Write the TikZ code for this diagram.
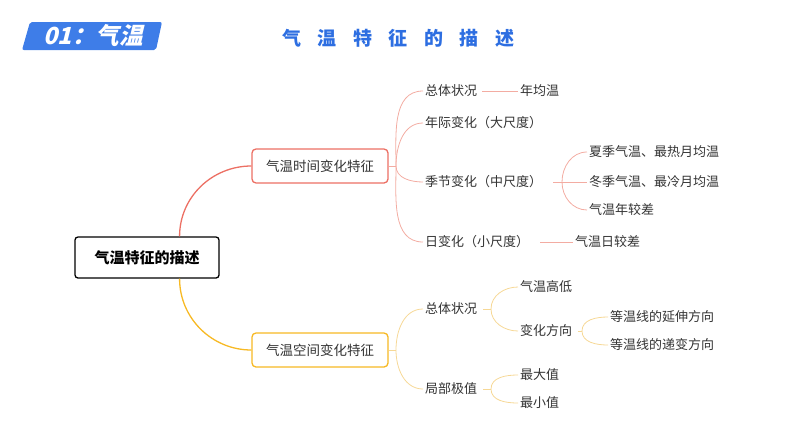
\documentclass[tikz,border=0pt]{standalone}
\usepackage{fontspec}
\setmainfont{Noto Sans CJK SC}
\newfontfamily\bannerfont{Noto Sans CJK SC}[FakeSlant=0.25]
\usepackage{tikz}
\definecolor{bannerblue}{RGB}{62, 125, 232}
\definecolor{titleblue}{RGB}{45, 110, 225}
\definecolor{timered}{RGB}{236, 112, 100}
\definecolor{timelight}{RGB}{243, 172, 162}
\definecolor{spaceyellow}{RGB}{247, 185, 36}
\definecolor{spacelight}{RGB}{246, 216, 150}
\definecolor{leaftext}{gray}{0.2}

\tikzset{
	rootbox/.style={draw=black, line width=1.3pt, rounded corners=3pt, fill=white, minimum width=144pt, minimum height=41pt, font=\fontsize{15}{15}\selectfont\bfseries},
	timebox/.style={draw=timered, line width=1.3pt, rounded corners=4pt, fill=white, minimum width=136pt, minimum height=34pt, font=\fontsize{13.5}{14}\selectfont, text=leaftext},
	spacebox/.style={timebox, draw=spaceyellow},
	leaf/.style={anchor=west, inner sep=2pt, font=\fontsize{13}{14}\selectfont, text=leaftext},
	timeline/.style={draw=timelight, line width=0.8pt},
	spaceline/.style={draw=spacelight, line width=0.8pt},
}

\begin{document}
\begin{tikzpicture}[x=1pt, y=-1pt]
		\useasboundingbox (0,0) rectangle (794,447);

		\fill[bannerblue, rounded corners=2pt] (30,22) -- (162,22) -- (156,50) -- (22,50) -- cycle;
		\node[text=white, font=\fontsize{23.5}{24}\bannerfont\bfseries] (banner) at (93,36) {01：气温};
		\foreach \ch [count=\i from 0] in {气,温,特,征,的,描,述}
			\node[text=titleblue, font=\fontsize{19}{19}\selectfont\bfseries] (title\i) at (291.5+35.5*\i, 38) {\ch};

		\node[rootbox] (root) at (147,257.5) {气温特征的描述};
		\node[timebox] (time) at (320,166) {气温时间变化特征};
		\node[spacebox] (space) at (320,350) {气温空间变化特征};
		\draw[timered, line width=1.3pt] (root.33) to[out=90, in=180] (time.west);
		\draw[spaceyellow, line width=1.3pt] (root.-33) to[out=-90, in=180] (space.west);

		\node[leaf] (ta) at (423,91) {总体状况};
		\node[leaf] (ta1) at (518,91) {年均温};
		\node[leaf] (tb) at (423,123) {年际变化（大尺度）};
		\node[leaf] (tc) at (423,182) {季节变化（中尺度）};
		\node[leaf] (tc1) at (587,152) {夏季气温、最热月均温};
		\node[leaf] (tc2) at (587,182) {冬季气温、最冷月均温};
		\node[leaf] (tc3) at (587,210) {气温年较差};
		\node[leaf] (td) at (423,242) {日变化（小尺度）};
		\node[leaf] (td1) at (573,242) {气温日较差};
		\coordinate (tj) at (396,166);
		\coordinate (tcj) at (562,182);

		\draw[timeline] (time.east) -- (tj);
		\draw[timeline] (tj) to[out=90, in=180] (ta.west);
		\draw[timeline] (tj) to[out=90, in=180] (tb.west);
		\draw[timeline] (tj) to[out=-90, in=180] (tc.west);
		\draw[timeline] (tj) to[out=-90, in=180] (td.west);
		\draw[timeline, shorten <=3pt] (ta.east) -- (ta1.west);
		\draw[timeline, shorten <=9pt] (td.east) -- (td1.west);
		\draw[timeline, shorten <=9pt] (tc.east) -- (tcj);
		\draw[timeline] (tcj) to[out=90, in=180] (tc1.west);
		\draw[timeline] (tcj) -- (tc2.west);
		\draw[timeline] (tcj) to[out=-90, in=180] (tc3.west);

		\node[leaf] (sa) at (423,309) {总体状况};
		\node[leaf] (sa1) at (518,287) {气温高低};
		\node[leaf] (sa2) at (518,331) {变化方向};
		\node[leaf] (sa21) at (608,317) {等温线的延伸方向};
		\node[leaf] (sa22) at (608,345) {等温线的递变方向};
		\node[leaf] (sb) at (423,389) {局部极值};
		\node[leaf] (sb1) at (518,375) {最大值};
		\node[leaf] (sb2) at (518,403) {最小值};
		\coordinate (sj) at (396,350);
		\coordinate (saj) at (491,309);
		\coordinate (sa2j) at (582,331);
		\coordinate (sbj) at (491,389);

		\draw[spaceline] (space.east) -- (sj);
		\draw[spaceline] (sj) to[out=90, in=180] (sa.west);
		\draw[spaceline] (sj) to[out=-90, in=180] (sb.west);
		\draw[spaceline, shorten <=4pt] (sa.east) -- (saj);
		\draw[spaceline] (saj) to[out=90, in=180] (sa1.west);
		\draw[spaceline] (saj) to[out=-90, in=180] (sa2.west);
		\draw[spaceline, shorten <=4pt] (sa2.east) -- (sa2j);
		\draw[spaceline] (sa2j) to[out=90, in=180] (sa21.west);
		\draw[spaceline] (sa2j) to[out=-90, in=180] (sa22.west);
		\draw[spaceline, shorten <=4pt] (sb.east) -- (sbj);
		\draw[spaceline] (sbj) to[out=90, in=180] (sb1.west);
		\draw[spaceline] (sbj) to[out=-90, in=180] (sb2.west);
	\end{tikzpicture}
\end{document}
